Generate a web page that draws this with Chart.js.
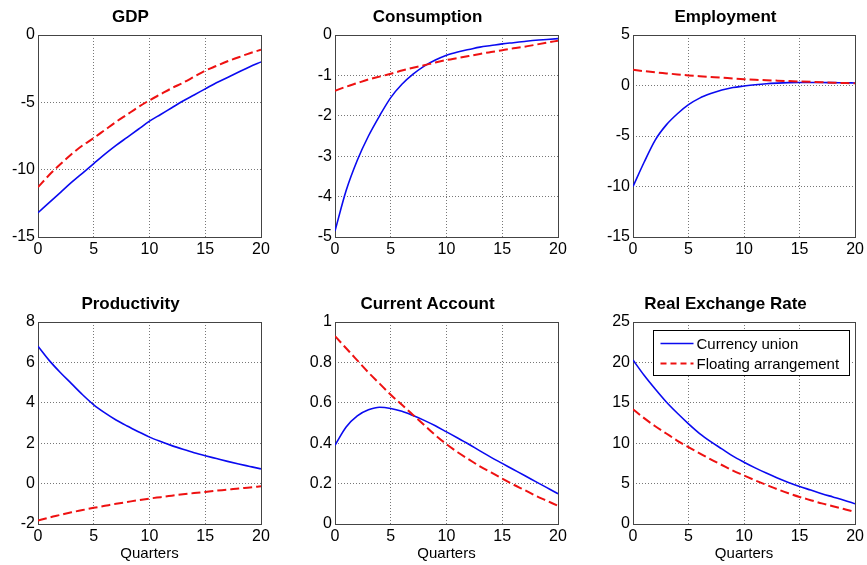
<!DOCTYPE html>
<html><head><meta charset="utf-8">
<script src="https://cdn.jsdelivr.net/npm/chart.js@4/dist/chart.umd.min.js"></script>
<style>
body{margin:0;background:#fff;width:867px;height:565px;overflow:hidden;position:relative;}
.p{position:absolute;}
</style></head><body>
<div class="p" id="d0"><canvas id="c0"></canvas></div>
<div class="p" id="d1"><canvas id="c1"></canvas></div>
<div class="p" id="d2"><canvas id="c2"></canvas></div>
<div class="p" id="d3"><canvas id="c3"></canvas></div>
<div class="p" id="d4"><canvas id="c4"></canvas></div>
<div class="p" id="d5"><canvas id="c5"></canvas></div>
<script>
const quarters = [0,1,2,3,4,5,6,7,8,9,10,11,12,13,14,15,16,17,18,19,20];
const xTicks = [0,5,10,15,20];
const seriesNames = ['Currency union','Floating arrangement'];
const titles = ['GDP','Consumption','Employment','Productivity','Current Account','Real Exchange Rate'];
const xAxisTitle = 'Quarters';

const gdpUnion = [-13.2,-12.45,-11.7,-10.95,-10.25,-9.55,-8.85,-8.2,-7.6,-7.0,-6.4,-5.9,-5.4,-4.9,-4.45,-4.0,-3.55,-3.15,-2.75,-2.35,-2.0];
const gdpFloat = [-11.3,-10.4,-9.6,-8.85,-8.2,-7.65,-7.05,-6.45,-5.9,-5.35,-4.85,-4.4,-3.95,-3.55,-3.1,-2.65,-2.3,-1.95,-1.65,-1.35,-1.1];
const consUnion = [-4.85,-3.85,-3.1,-2.5,-2.0,-1.55,-1.22,-0.97,-0.77,-0.62,-0.5,-0.42,-0.36,-0.3,-0.26,-0.22,-0.19,-0.16,-0.13,-0.11,-0.09];
const consFloat = [-1.38,-1.28,-1.19,-1.1,-1.03,-0.96,-0.88,-0.81,-0.75,-0.68,-0.62,-0.57,-0.52,-0.47,-0.42,-0.38,-0.33,-0.29,-0.24,-0.19,-0.14];
const empUnion = [-10.0,-7.6,-5.4,-3.9,-2.8,-1.9,-1.25,-0.8,-0.45,-0.2,-0.05,0.08,0.18,0.24,0.28,0.3,0.3,0.3,0.28,0.27,0.25];
const empFloat = [1.55,1.42,1.3,1.2,1.1,1.0,0.92,0.85,0.78,0.7,0.63,0.57,0.52,0.48,0.44,0.4,0.36,0.32,0.28,0.25,0.22];
const prodUnion = [6.8,6.1,5.5,4.95,4.4,3.9,3.5,3.15,2.85,2.57,2.3,2.08,1.88,1.7,1.53,1.38,1.24,1.1,0.97,0.85,0.73];
const prodFloat = [-1.83,-1.68,-1.55,-1.42,-1.31,-1.2,-1.1,-1.0,-0.91,-0.82,-0.74,-0.67,-0.6,-0.53,-0.47,-0.41,-0.35,-0.3,-0.24,-0.19,-0.13];
const caUnion = [0.39,0.48,0.535,0.565,0.578,0.572,0.558,0.537,0.513,0.486,0.456,0.426,0.395,0.362,0.33,0.3,0.27,0.24,0.21,0.18,0.15];
const caFloat = [0.93,0.87,0.81,0.75,0.695,0.64,0.59,0.54,0.49,0.44,0.395,0.355,0.32,0.285,0.255,0.225,0.195,0.168,0.14,0.115,0.09];
const rerUnion = [20.3,18.4,16.7,15.1,13.7,12.4,11.2,10.2,9.3,8.4,7.65,6.95,6.3,5.7,5.15,4.65,4.2,3.75,3.35,2.95,2.5];
const rerFloat = [14.2,13.1,12.1,11.2,10.3,9.5,8.75,8.0,7.3,6.6,6.0,5.4,4.85,4.3,3.8,3.35,2.95,2.55,2.2,1.85,1.5];

const yMins = [-15,-5,-15,-2,0,0];
const yMaxs = [0,0,5,8,1,25];
const ySteps = [5,1,5,2,0.2,5];

const unionSeries = [gdpUnion,consUnion,empUnion,prodUnion,caUnion,rerUnion];
const floatSeries = [gdpFloat,consFloat,empFloat,prodFloat,caFloat,rerFloat];

// layout (positions/sizes only)
const FONT = "'Liberation Sans', Arial, Helvetica, sans-serif";
const BLUE = '#0a0af0', RED = '#ee1111';
const layout = [
  {left:0,   top:0,   padR:14, bottom:false},
  {left:297, top:0,   padR:14, bottom:false},
  {left:595, top:0,   padR:11, bottom:false},
  {left:0,   top:287, padR:14, bottom:true},
  {left:297, top:287, padR:14, bottom:true},
  {left:595, top:287, padR:11, bottom:true}
];
const YW = 38, PW = 223, PH = 202, TH = 35;

const boxPlugin = {
  id:'box',
  beforeDatasetsDraw(chart){
    const a = chart.chartArea, ctx = chart.ctx;
    ctx.save();
    ctx.strokeStyle = '#444';
    ctx.lineWidth = 1;
    ctx.strokeRect(Math.round(a.left)+0.5, Math.round(a.top)+0.5, Math.round(a.right)-Math.round(a.left), Math.round(a.bottom)-Math.round(a.top));
    ctx.restore();
  }
};

const legendPlugin = {
  id:'boxLegend',
  afterDatasetsDraw(chart, args, opts){
    if(!opts || !opts.show) return;
    const a = chart.chartArea, ctx = chart.ctx;
    const x = Math.round(a.left)+20.5, y = Math.round(a.top)+8.5, w = 196, h = 45;
    ctx.save();
    ctx.fillStyle = '#fff';
    ctx.fillRect(x, y, w, h);
    ctx.strokeStyle = '#000';
    ctx.lineWidth = 1;
    ctx.strokeRect(x, y, w, h);
    const ds = chart.data.datasets;
    const order = [ds.find(d=>d.label===seriesNames[0]), ds.find(d=>d.label===seriesNames[1])];
    order.forEach((d,i)=>{
      const cy = y + 13 + i*20;
      ctx.beginPath();
      ctx.strokeStyle = d.borderColor;
      ctx.lineWidth = i===0 ? 1.5 : 1.8;
      ctx.setLineDash(i===0 ? [] : [6,4]);
      ctx.moveTo(x+7, cy);
      ctx.lineTo(x+40, cy);
      ctx.stroke();
      ctx.setLineDash([]);
      ctx.fillStyle = '#000';
      ctx.font = '15px ' + FONT;
      ctx.textBaseline = 'middle';
      ctx.textAlign = 'left';
      ctx.fillText(d.label, x+43, cy+1);
    });
    ctx.restore();
  }
};

const fmt = v => String(Number(v.toFixed(4)));

for(let i=0;i<6;i++){
  const L = layout[i];
  const xh = L.bottom ? 41 : 28;
  const div = document.getElementById('d'+i);
  div.style.left = L.left+'px';
  div.style.top = L.top+'px';
  div.style.width = (YW+PW+L.padR)+'px';
  div.style.height = (TH+PH+xh)+'px';
  const toPts = arr => quarters.map((q,k)=>({x:q, y:arr[k]}));
  new Chart(document.getElementById('c'+i), {
    type:'line',
    data:{datasets:[
      {label:seriesNames[0], data:toPts(unionSeries[i]), borderColor:BLUE, borderWidth:1.6, pointRadius:0, cubicInterpolationMode:'monotone', order:1, fill:false},
      {label:seriesNames[1], data:toPts(floatSeries[i]), borderColor:RED, borderWidth:2, borderDash:[9,4], pointRadius:0, cubicInterpolationMode:'monotone', order:0, fill:false}
    ]},
    options:{
      responsive:true, maintainAspectRatio:false, animation:false,
      events:[],
      layout:{padding:{left:0,top:0,bottom:0,right:L.padR}},
      plugins:{
        legend:{display:false}, tooltip:{enabled:false},
        title:{display:true, text:titles[i], color:'#000', font:{family:FONT, size:17, weight:'bold', lineHeight:'20px'}, padding:{top:7,bottom:8}},
        boxLegend:{show: i===5}
      },
      scales:{
        x:{type:'linear', min:0, max:20,
          afterBuildTicks: s => { s.ticks = xTicks.map(v=>({value:v})); },
          ticks:{color:'#000', font:{family:FONT, size:16}, padding:3, maxRotation:0, autoSkip:false, callback: fmt},
          grid:{color:'#777', lineWidth:1, drawTicks:false},
          border:{display:false, dash:[1,2]},
          afterFit: s => { s.height = xh; },
          title:{display:L.bottom, text:xAxisTitle, color:'#000', font:{family:FONT, size:15, lineHeight:'18px'}, padding:{top:0,bottom:2}}
        },
        y:{type:'linear', min:yMins[i], max:yMaxs[i],
          ticks:{stepSize:ySteps[i], color:'#000', font:{family:FONT, size:16}, padding:3, callback: fmt},
          grid:{color:'#777', lineWidth:1, drawTicks:false},
          border:{display:false, dash:[1,2]},
          afterFit: s => { s.width = YW; }
        }
      }
    },
    plugins:[boxPlugin, legendPlugin]
  });
}
</script>
</body></html>
